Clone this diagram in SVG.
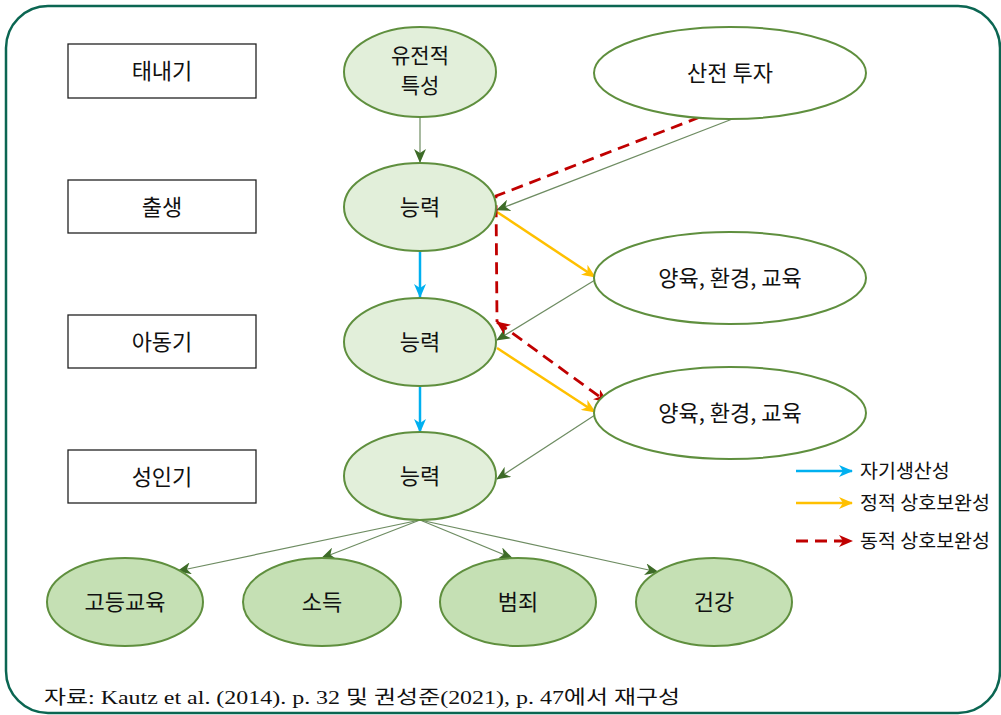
<svg xmlns="http://www.w3.org/2000/svg" width="1001" height="715" viewBox="0 0 1001 715">
<defs>
<style>
.frame{fill:none;stroke:#0b6652;stroke-width:2.5}
.stage{fill:#fff;stroke:#222;stroke-width:1.3}
.nodeL{fill:#e2efda;stroke:#5f8f3e;stroke-width:2}
.nodeW{fill:#fff;stroke:#5f8f3e;stroke-width:2}
.nodeD{fill:#c5e0b4;stroke:#5f8f3e;stroke-width:2}
text{font-family:"Noto Sans CJK KR","Noto Sans",sans-serif;fill:#111}
.lbl{font-size:22px;text-anchor:middle}
.lbl2{font-size:21px;text-anchor:middle}
.leg{font-size:19.5px}
.foot{font-family:"Liberation Serif","Noto Sans CJK KR",serif;font-size:19px}
.thin{fill:none;stroke:#6e8c62;stroke-width:1.2}
.blue{fill:none;stroke:#00b0f0;stroke-width:2.5}
.yel{fill:none;stroke:#ffc000;stroke-width:2.5}
.red{fill:none;stroke:#c00000;stroke-width:2.8;stroke-dasharray:12 7}
</style>
<marker id="ag" markerUnits="userSpaceOnUse" viewBox="0 0 14 12" refX="13" refY="6" markerWidth="14" markerHeight="12" orient="auto"><path d="M0,0 L14,6 L0,12 L4,6 Z" fill="#3d6b27"/></marker>
<marker id="ab" markerUnits="userSpaceOnUse" viewBox="0 0 14 12" refX="13" refY="6" markerWidth="14" markerHeight="12" orient="auto"><path d="M0,0 L14,6 L0,12 L4,6 Z" fill="#00b0f0"/></marker>
<marker id="ay" markerUnits="userSpaceOnUse" viewBox="0 0 14 12" refX="13" refY="6" markerWidth="14" markerHeight="12" orient="auto"><path d="M0,0 L14,6 L0,12 L4,6 Z" fill="#ffc000"/></marker>
<marker id="ar" markerUnits="userSpaceOnUse" viewBox="0 0 14 12" refX="13" refY="6" markerWidth="14" markerHeight="12" orient="auto"><path d="M0,0 L14,6 L0,12 L4,6 Z" fill="#c00000"/></marker>
<marker id="ars" markerUnits="userSpaceOnUse" viewBox="0 0 14 12" refX="1" refY="6" markerWidth="14" markerHeight="12" orient="auto"><path d="M14,0 L0,6 L14,12 L10,6 Z" fill="#c00000"/></marker>
</defs>
<rect class="frame" x="6" y="6" width="994" height="707" rx="42" ry="42"/>
<g id="stage-taenaegi"><rect class="stage" x="68" y="44" width="188" height="54"/><text class="lbl" x="162" y="79">태내기</text></g>
<g id="stage-birth"><rect class="stage" x="68" y="180" width="188" height="53"/><text class="lbl" x="162" y="215">출생</text></g>
<g id="stage-child"><rect class="stage" x="68" y="315" width="188" height="53"/><text class="lbl" x="162" y="350">아동기</text></g>
<g id="stage-adult"><rect class="stage" x="68" y="450" width="188" height="53"/><text class="lbl" x="162" y="485">성인기</text></g>
<g id="connectors">
<line class="thin" x1="420" y1="117" x2="420" y2="162" marker-end="url(#ag)"/>
<line class="thin" x1="735" y1="118" x2="497" y2="210" marker-end="url(#ag)"/>
<line class="thin" x1="595" y1="280" x2="497" y2="340" marker-end="url(#ag)"/>
<line class="thin" x1="595" y1="415" x2="497" y2="479" marker-end="url(#ag)"/>
<line class="thin" x1="420" y1="520" x2="178" y2="571" marker-end="url(#ag)"/>
<line class="thin" x1="420" y1="520" x2="322" y2="558" marker-end="url(#ag)"/>
<line class="thin" x1="420" y1="520" x2="512" y2="558" marker-end="url(#ag)"/>
<line class="thin" x1="420" y1="520" x2="658" y2="572" marker-end="url(#ag)"/>
<line class="blue" x1="420" y1="251" x2="420" y2="297" marker-end="url(#ab)"/>
<line class="blue" x1="420" y1="387" x2="420" y2="432" marker-end="url(#ab)"/>
<line class="yel" x1="497" y1="212" x2="595" y2="277" marker-end="url(#ay)"/>
<line class="yel" x1="497" y1="348" x2="595" y2="412" marker-end="url(#ay)"/>
<polyline class="red" points="700,117 496,196 497,322"/>
<line class="red" x1="497" y1="322" x2="607" y2="402" marker-start="url(#ars)" marker-end="url(#ar)"/>
</g>
<g id="node-genetic"><ellipse class="nodeL" cx="420" cy="72" rx="76" ry="45"/><text class="lbl2" x="420" y="63">유전적</text><text class="lbl2" x="420" y="93">특성</text></g>
<g id="node-ability1"><ellipse class="nodeL" cx="420" cy="207" rx="76" ry="44"/><text class="lbl" x="420" y="215">능력</text></g>
<g id="node-ability2"><ellipse class="nodeL" cx="420" cy="342" rx="76" ry="44"/><text class="lbl" x="420" y="350">능력</text></g>
<g id="node-ability3"><ellipse class="nodeL" cx="420" cy="476" rx="76" ry="44"/><text class="lbl" x="420" y="484">능력</text></g>
<g id="node-prenatal"><ellipse class="nodeW" cx="730" cy="73" rx="136" ry="46"/><text class="lbl" x="730" y="81">산전 투자</text></g>
<g id="node-nurture1"><ellipse class="nodeW" cx="730" cy="278" rx="136" ry="46"/><text class="lbl" x="730" y="286">양육, 환경, 교육</text></g>
<g id="node-nurture2"><ellipse class="nodeW" cx="730" cy="413" rx="136" ry="46"/><text class="lbl" x="730" y="421">양육, 환경, 교육</text></g>
<g id="node-edu"><ellipse class="nodeD" cx="125" cy="602" rx="78" ry="44"/><text class="lbl" x="125" y="610">고등교육</text></g>
<g id="node-income"><ellipse class="nodeD" cx="322" cy="602" rx="79" ry="44"/><text class="lbl" x="322" y="610">소득</text></g>
<g id="node-crime"><ellipse class="nodeD" cx="518" cy="602" rx="78" ry="44"/><text class="lbl" x="518" y="610">범죄</text></g>
<g id="node-health"><ellipse class="nodeD" cx="714" cy="602" rx="78" ry="44"/><text class="lbl" x="714" y="610">건강</text></g>
<g id="legend">
<line class="blue" x1="796" y1="471" x2="852" y2="471" marker-end="url(#ab)"/>
<text class="leg" x="860" y="478">자기생산성</text>
<line class="yel" x1="796" y1="503" x2="852" y2="503" marker-end="url(#ay)"/>
<text class="leg" x="860" y="510">정적 상호보완성</text>
<line class="red" x1="796" y1="541" x2="852" y2="541" marker-end="url(#ar)"/>
<text class="leg" x="860" y="548">동적 상호보완성</text>
</g>
<text class="foot" x="44" y="704" textLength="636" lengthAdjust="spacingAndGlyphs">자료: Kautz et al. (2014). p. 32 및 권성준(2021), p. 47에서 재구성</text>
</svg>
